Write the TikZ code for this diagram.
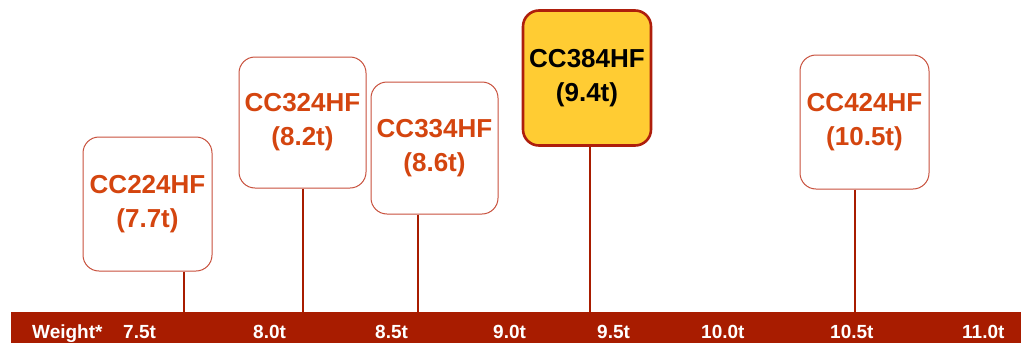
\documentclass[tikz,border=0pt]{standalone}
\usepackage{fontspec}
\setmainfont{Liberation Sans}
\definecolor{barred}{HTML}{A81C00}
\definecolor{txtor}{HTML}{D4450F}
\definecolor{boxedge}{HTML}{C8503C}
\definecolor{gold}{HTML}{FFCC33}
\definecolor{darkedge}{HTML}{AE1E0C}
\begin{document}
\begin{tikzpicture}[x=1pt,y=-1pt,
  model/.style={draw=boxedge,line width=1pt,rounded corners=16pt,fill=white,
    text=txtor,font=\bfseries\fontsize{26}{34}\selectfont,align=center,inner sep=0pt},
  hilite/.style={model,draw=darkedge,line width=2.6pt,fill=gold,text=black},
  stem/.style={draw=barred,line width=2pt},
  tick/.style={text=white,font=\bfseries\fontsize{19}{20}\selectfont,anchor=base west,inner sep=0pt}]
\useasboundingbox (0,0) rectangle (1027,343);
\fill[barred] (11,312) rectangle (1021,343);
% boxes
\node[model,minimum width=129pt,minimum height=134pt] (b1) at (147.5,204) {CC224HF\\(7.7t)};
\node[model,minimum width=127pt,minimum height=131pt] (b2) at (302.5,122.5) {CC324HF\\(8.2t)};
\node[model,minimum width=127pt,minimum height=132pt] (b3) at (434.5,148) {CC334HF\\(8.6t)};
\node[hilite,minimum width=128pt,minimum height=135pt] (b4) at (587,78) {CC384HF\\(9.4t)};
\node[model,minimum width=129pt,minimum height=134pt] (b5) at (864.5,122) {CC424HF\\(10.5t)};
% stems
\coordinate (s1) at (184,312);
\coordinate (s2) at (303,312);
\coordinate (s3) at (418,312);
\coordinate (s4) at (590,312);
\coordinate (s5) at (855,312);
\draw[stem] (b1.south -| s1) -- (s1);
\draw[stem] (b2.south -| s2) -- (s2);
\draw[stem] (b3.south -| s3) -- (s3);
\draw[stem] (b4.south -| s4) -- (s4);
\draw[stem] (b5.south -| s5) -- (s5);
% axis labels
\node[tick] (w) at (32,338) {Weight*};
\node[tick] (t1) at (123,338) {7.5t};
\node[tick] (t2) at (253,338) {8.0t};
\node[tick] (t3) at (375,338) {8.5t};
\node[tick] (t4) at (493,338) {9.0t};
\node[tick] (t5) at (597,338) {9.5t};
\node[tick] (t6) at (701,338) {10.0t};
\node[tick] (t7) at (830,338) {10.5t};
\node[tick] (t8) at (962,338) {11.0t};
\end{tikzpicture}
\end{document}
